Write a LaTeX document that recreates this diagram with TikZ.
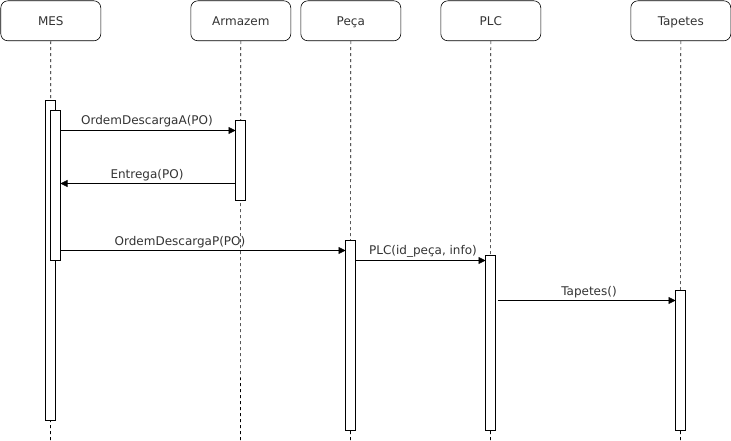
\documentclass[tikz,border=0pt]{standalone}
\usepackage{fontspec}
\setmainfont{DejaVu Sans}
\usetikzlibrary{arrows.meta}
\definecolor{txt}{HTML}{333333}
\begin{document}
\begin{tikzpicture}[x=1pt,y=-1pt,
  hdr/.style={draw=black,rounded corners=7pt,minimum width=100pt,minimum height=40pt,inner sep=0pt,text height=10pt,text depth=0pt,font=\fontsize{12}{14}\selectfont,text=txt,anchor=north west,line width=0.6pt},
  life/.style={dashed,dash pattern=on 3pt off 3pt,line width=0.6pt},
  act/.style={draw=black,fill=white,line width=0.6pt},
  msg/.style={-{Triangle[length=7pt,width=7pt]},line width=0.6pt},
  lbl/.style={font=\fontsize{12}{14}\selectfont,text=txt,inner sep=0pt,anchor=base}]
\useasboundingbox (0,0) rectangle (731,441);
\node[hdr] (mes) at (0.5,0.5) {MES};
\node[hdr] (arm) at (190.5,0.5) {Armazem};
\node[hdr] (pec) at (300.5,0.5) {Peça};
\node[hdr] (plc) at (440.5,0.5) {PLC};
\node[hdr] (tap) at (630.5,0.5) {Tapetes};
\coordinate (mesE) at (50.5,441);
\coordinate (armE) at (240.5,441);
\coordinate (pecE) at (350.5,441);
\coordinate (plcE) at (490.5,441);
\coordinate (tapE) at (680.5,441);
\draw[life] (mes.south) -- (mesE);
\draw[life] (arm.south) -- (armE);
\draw[life] (pec.south) -- (pecE);
\draw[life] (plc.south) -- (plcE);
\draw[life] (tap.south) -- (tapE);
\draw[act] (45.5,100.5) rectangle (55.5,420.5);
\draw[act] (50.5,110.5) rectangle (60.5,260.5);
\draw[act] (235.5,120.5) rectangle (245.5,200.5);
\draw[act] (345.5,240.5) rectangle (355.5,430.5);
\draw[act] (485.5,255.5) rectangle (495.5,430.5);
\draw[act] (675.5,290.5) rectangle (685.5,430.5);
\coordinate (a1) at (60.5,130.5); \coordinate (b1) at (235.5,130.5);
\coordinate (a2) at (235.5,183.5); \coordinate (b2) at (60.5,183.5);
\coordinate (a3) at (60.5,250.5); \coordinate (b3) at (345.5,250.5);
\coordinate (a4) at (355.5,260.5); \coordinate (b4) at (485.5,260.5);
\coordinate (a5) at (497.5,300.5); \coordinate (b5) at (675.5,300.5);
\draw[msg] (a1) -- (b1);
\draw[msg] (a2) -- (b2);
\draw[msg] (a3) -- (b3);
\draw[msg] (a4) -- (b4);
\draw[msg] (a5) -- (b5);
\node[lbl] (l1) at (147,125) {OrdemDescargaA(PO)};
\node[lbl] (l2) at (147,178.5) {Entrega(PO)};
\node[lbl] (l3) at (180,245) {OrdemDescargaP(PO)};
\node[lbl] (l4) at (423,254.5) {PLC(id\_peça, info)};
\node[lbl] (l5) at (589,295) {Tapetes()};
\end{tikzpicture}
\end{document}
